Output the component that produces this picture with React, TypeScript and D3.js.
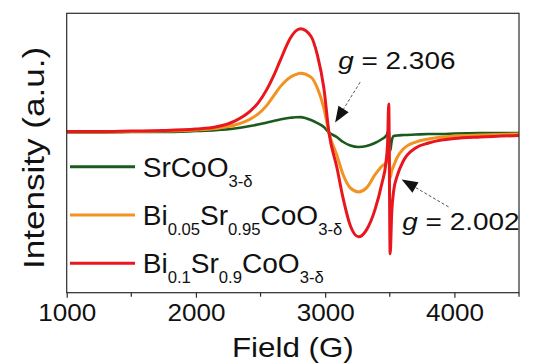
import * as d3 from 'd3';
import React, { useEffect, useRef } from 'react';

// magnetic field (G), shared by all three spectra
const fields = [1000, 1250, 1500, 1750, 2000, 2150, 2300, 2420, 2480, 2550, 2600, 2650, 2730, 2770, 2810,
    2890, 2940, 2990, 3030, 3090, 3140, 3195, 3258, 3320, 3385, 3440, 3470, 3483, 3492, 3503, 3515,
    3530, 3555, 3605, 3700, 3800, 3900, 4000, 4200, 4500];

// intensities (a.u.)
const srCoO = [0.5, 0.5, 1, 1, 2, 2.8, 4.5, 7, 8.5, 10.5, 12, 13.5, 15.3, 15.9, 16,
    13, 10, 6, 0.5, -4, -9, -12.5, -14, -13, -10, -6, -3, 0, 3, -18, -8,
    -3, -2.5, -2, -1.5, -1, -1, -0.5, 0, 0];
const bi005 = [1, 1, 1.5, 2, 3, 4.5, 8, 14, 19, 28, 37, 46, 56, 58.5, 60,
    56, 45, 25, 0, -22, -42, -55, -59, -55, -42, -33, -30, -25, -10, -45, -38,
    -33, -25, -16, -9, -6, -4, -3, -2, -1];
const bi01 = [1.5, 1.5, 2, 2.5, 4, 6, 12, 22, 30, 44, 57, 72, 95, 102, 104.5,
    97, 78, 45, 0, -34, -66, -93, -104, -97, -77, -50, -30, -10, 29, -121, -80,
    -58, -44, -28, -15, -10, -7, -5.5, -4, -2.5];

const seriesColors = ['#1b5a1d', '#f29321', '#e8161d'];

// legend labels, [text, subscript?]
const legendLabels: Array<Array<[string, boolean]>> = [
    [['SrCoO', false], ['3-δ', true]],
    [['Bi', false], ['0.05', true], ['Sr', false], ['0.95', true], ['CoO', false], ['3-δ', true]],
    [['Bi', false], ['0.1', true], ['Sr', false], ['0.9', true], ['CoO', false], ['3-δ', true]]
];

const xTicks = [1000, 2000, 3000, 4000];
const xMinorTicks = [1500, 2500, 3500, 4500];

// g-factor notes: label, arrow tail and tip in data units
const notes = [
    { g: '2.306', text: [3101, 64], tail: [3271, 51], tip: [3077, 10.5] },
    { g: '2.002', text: [3597, -97], tail: [3955, -74], tip: [3592, -46.5] }
];

const width = 546;
const height = 364;
const margin = { left: 66.7, right: 27, top: 13.3, bottom: 71.3 };
const font = 'Liberation Sans, Arial, Helvetica, sans-serif';

/**
 * EPR spectra chart.
 */
export default function App() {
    const ref = useRef<SVGSVGElement>(null);

    useEffect(() => {
        const svg = d3.select(ref.current);
        svg.selectAll('*').remove();

        const x = d3.scaleLinear()
            .domain([ 1000, 4500 ])
            .range([ margin.left, width - margin.right ]);
        const y = d3.scaleLinear()
            .domain([ -160, 120 ])
            .range([ height - margin.bottom, margin.top ]);

        svg.append('clipPath')
            .attr('id', 'plot-clip')
            .append('rect')
            .attr('x', margin.left)
            .attr('y', margin.top)
            .attr('width', x.range()[1] - margin.left)
            .attr('height', y.range()[0] - margin.top);

        const line = d3.line<number>()
            .x((_, i) => x(fields[i]))
            .y(d => y(d))
            .curve(d3.curveMonotoneX);

        const plot = svg.append('g').attr('clip-path', 'url(#plot-clip)');

        [ srCoO, bi005, bi01 ].forEach((s, i) => {
            plot.append('path')
                .attr('d', line(s))
                .attr('fill', 'none')
                .attr('stroke', seriesColors[i])
                .attr('stroke-width', i === 0 ? 2.6 : 3)
                .attr('stroke-linejoin', 'round');
        });

        // frame
        svg.append('rect')
            .attr('x', margin.left)
            .attr('y', margin.top)
            .attr('width', x.range()[1] - margin.left)
            .attr('height', y.range()[0] - margin.top)
            .attr('fill', 'none')
            .attr('stroke', '#2b2b2b')
            .attr('stroke-width', 1.2);

        const xAxis = d3.axisBottom(x)
            .tickValues(xTicks)
            .tickSize(5)
            .tickFormat(d => `${d}`);

        const ax = svg.append('g')
            .attr('transform', `translate(0, ${y.range()[0]})`)
            .call(xAxis);

        ax.select('.domain').remove();
        ax.selectAll('line').attr('stroke', '#2b2b2b').attr('stroke-width', 1.2);
        ax.selectAll('text')
            .attr('font-family', font)
            .attr('font-size', 23.5)
            .attr('fill', '#111')
            .attr('x', 0)
            .attr('y', 0)
            .attr('dy', 0)
            .attr('transform', 'translate(0, 28.7) scale(1.11, 1)');

        svg.append('g')
            .selectAll('line')
            .data(xMinorTicks)
            .enter()
            .append('line')
            .attr('x1', d => x(d))
            .attr('x2', d => x(d))
            .attr('y1', y.range()[0])
            .attr('y2', y.range()[0] + 4)
            .attr('stroke', '#2b2b2b')
            .attr('stroke-width', 1.2);

        // axis titles
        svg.append('text')
            .attr('transform', `translate(${(margin.left + x.range()[1]) / 2}, 357) scale(1.14, 1)`)
            .attr('text-anchor', 'middle')
            .attr('font-family', font)
            .attr('font-size', 27.5)
            .attr('fill', '#111')
            .text('Field (G)');

        svg.append('text')
            .attr('transform', 'translate(44, 158) rotate(-90) scale(1.17, 1)')
            .attr('text-anchor', 'middle')
            .attr('font-family', font)
            .attr('font-size', 30)
            .attr('fill', '#111')
            .text('Intensity (a.u.)');

        // legend
        const legend = svg.append('g');

        legendLabels.forEach((parts, i) => {
            const ly = 166.7 + i * 48.3;

            legend.append('line')
                .attr('x1', 70)
                .attr('x2', 135)
                .attr('y1', ly)
                .attr('y2', ly)
                .attr('stroke', seriesColors[i])
                .attr('stroke-width', 3);

            const t = legend.append('text')
                .attr('transform', `translate(142.7, ${ly + 10}) scale(1.04, 1)`)
                .attr('font-family', font)
                .attr('fill', '#111');

            let sub = false;

            parts.forEach(([ txt, isSub ]) => {
                const dy = isSub === sub ? 0 : isSub ? 10 : -10;

                t.append('tspan')
                    .attr('dy', dy)
                    .attr('font-size', isSub ? 16 : 27)
                    .text(txt);
                sub = isSub;
            });
        });

        // g-factor annotations
        notes.forEach(n => {
            const [ tx, ty ] = [ x(n.tip[0]), y(n.tip[1]) ];
            const [ sx, sy ] = [ x(n.tail[0]), y(n.tail[1]) ];
            const len = Math.hypot(tx - sx, ty - sy);
            const ux = (tx - sx) / len;
            const uy = (ty - sy) / len;
            const bx = tx - ux * 16;
            const by = ty - uy * 16;

            svg.append('line')
                .attr('x1', sx)
                .attr('y1', sy)
                .attr('x2', bx)
                .attr('y2', by)
                .attr('stroke', '#555')
                .attr('stroke-width', 1)
                .attr('stroke-dasharray', '3,2');

            svg.append('path')
                .attr('d', `M${tx},${ty}L${bx - uy * 6},${by + ux * 6}L${bx + uy * 6},${by - ux * 6}Z`)
                .attr('fill', '#111');

            const t = svg.append('text')
                .attr('transform', `translate(${x(n.text[0])}, ${y(n.text[1])}) scale(1.14, 1)`)
                .attr('font-family', font)
                .attr('font-size', 24.5)
                .attr('fill', '#111');

            t.append('tspan').attr('font-style', 'italic').text('g');
            t.append('tspan').text(` = ${n.g}`);
        });
    }, []);

    return (
        <svg
            ref={ref}
            width={width}
            height={height}
            style={{ position: 'absolute', left: 0, top: 0, background: '#fff' }} />
    );
}
